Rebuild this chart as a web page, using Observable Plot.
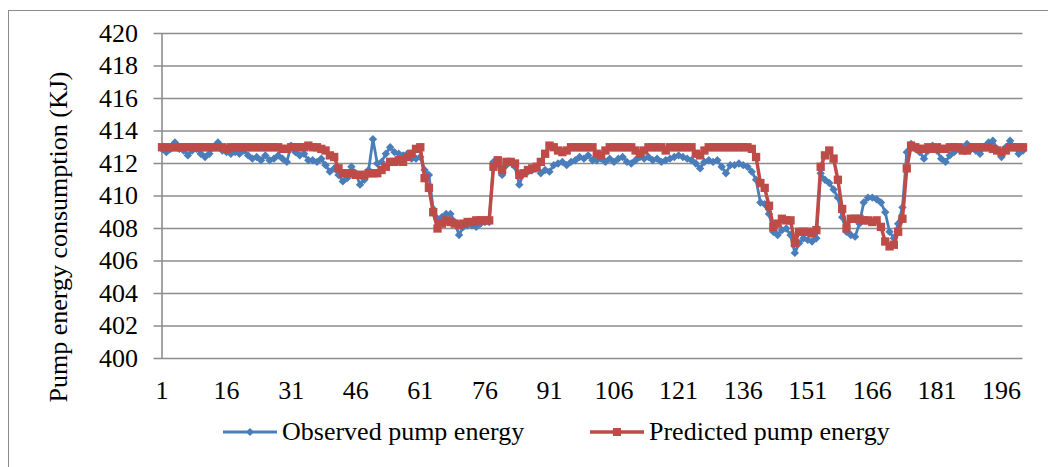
<!DOCTYPE html>
<html>
<head>
<meta charset="utf-8">
<script src="https://cdn.jsdelivr.net/npm/d3@7"></script>
<script src="https://cdn.jsdelivr.net/npm/@observablehq/plot@0.6"></script>
<style>
  html, body { margin: 0; padding: 0; background: #fff; }
  #chart { position: relative; width: 1048px; height: 467px; overflow: hidden;
           font-family: "Liberation Serif", "Times New Roman", serif; }
  #frame { position: absolute; left: 8px; top: 10px; width: 1100px; height: 500px;
           border: 1px solid #8c8c8c; box-sizing: border-box; }
  #plot { position: absolute; left: 0; top: 0; }
  #plot svg, #plot svg text { font-family: "Liberation Serif", "Times New Roman", serif !important; }
  #legend { position: absolute; left: 0; top: 410px; }
</style>
</head>
<body>
<div id="chart">
  <div id="frame"></div>
  <div id="plot"></div>
  <svg id="legend" width="1048" height="57"></svg>
</div>
<script>
// Category ticks and value gridlines
const xTicks = [1, 16, 31, 46, 61, 76, 91, 106, 121, 136, 151, 166, 181, 196];
const yTicks = [400, 402, 404, 406, 408, 410, 412, 414, 416, 418, 420];

// Observed pump energy (KJ), samples 1..201
const observed = [
  412.9, 412.7, 412.9, 413.3, 412.9, 412.8, 412.5, 412.8, 412.9, 412.6,
  412.4, 412.6, 413.0, 413.3, 412.8, 412.7, 412.6, 412.7, 412.6, 412.8,
  412.5, 412.3, 412.4, 412.2, 412.5, 412.2, 412.3, 412.5, 412.3, 412.1,
  413.1, 412.7, 412.5, 412.6, 412.2, 412.2, 412.1, 412.3, 411.9, 411.5,
  411.7, 411.3, 410.9, 411.1, 411.8, 411.4, 410.7, 411.0, 411.6, 413.5,
  412.0, 412.1, 412.6, 413.0, 412.7, 412.6, 412.5, 412.6, 412.3, 412.3,
  412.4, 411.6, 411.3, 409.2, 408.6, 408.7, 408.9, 408.9, 408.4, 407.6,
  408.1, 408.2, 408.2, 408.1, 408.3, 408.4, 408.4, 412.1, 412.0, 411.3,
  411.9, 412.1, 411.8, 410.7, 411.4, 411.5, 411.6, 411.7, 411.4, 411.6,
  411.5, 411.9, 412.0, 412.1, 411.9, 412.1, 412.2, 412.4, 412.3, 412.5,
  412.2, 412.2, 412.3, 412.1, 412.3, 412.1, 412.3, 412.4, 412.1, 412.0,
  412.2, 412.4, 412.3, 412.4, 412.2, 412.3, 412.1, 412.2, 412.3, 412.4,
  412.5, 412.4, 412.3, 412.2, 412.0, 411.7, 412.1, 412.2, 412.1, 412.2,
  411.8, 411.4, 411.9, 411.9, 412.0, 411.9, 411.8, 411.5, 411.0, 409.6,
  409.5, 408.9, 407.8, 407.6, 407.9, 408.0, 407.6, 406.5, 407.1, 407.4,
  407.3, 407.2, 407.4, 411.4, 411.0, 410.8, 410.4, 409.9, 408.7, 407.8,
  407.6, 407.5, 408.3, 409.6, 409.9, 409.9, 409.8, 409.6, 409.0, 407.8,
  407.4, 408.3, 409.3, 412.7, 413.2, 412.9, 412.7, 412.3, 412.8, 413.1,
  412.8, 412.3, 412.1, 412.5, 412.7, 412.9, 413.0, 413.2, 412.9, 412.8,
  412.6, 413.0, 413.3, 413.4, 412.9, 412.4, 413.0, 413.4, 413.0, 412.6, 412.8
];

// Predicted pump energy (KJ), samples 1..201
const predicted = [
  413.0, 413.0, 413.0, 413.0, 413.0, 413.0, 413.0, 413.0, 413.0, 413.0,
  413.0, 413.0, 413.0, 413.0, 413.0, 412.9, 413.0, 413.0, 413.0, 413.0,
  413.0, 413.0, 413.0, 413.0, 413.0, 413.0, 413.0, 413.0, 412.9, 412.9,
  413.0, 413.0, 413.0, 413.0, 413.1, 413.0, 413.0, 412.9, 412.8, 412.5,
  412.4, 411.7, 411.4, 411.4, 411.4, 411.3, 411.3, 411.3, 411.4, 411.4,
  411.4, 411.6, 411.8, 412.1, 412.1, 412.2, 412.1, 412.4, 412.6, 412.9,
  413.0, 411.1, 410.5, 409.0, 408.0, 408.3, 408.5, 408.4, 408.3, 408.2,
  408.3, 408.4, 408.4, 408.5, 408.5, 408.5, 408.5, 411.8, 412.2, 411.6,
  412.1, 412.1, 412.0, 411.3, 411.4, 411.6, 411.7, 411.8, 412.1, 412.6,
  413.1, 413.0, 412.8, 412.7, 412.8, 413.0, 413.0, 413.0, 413.0, 413.0,
  413.0, 412.6, 412.5, 412.8, 413.0, 413.0, 413.0, 413.0, 413.0, 413.0,
  412.8, 412.6, 412.8, 413.0, 413.0, 413.0, 413.0, 412.8, 413.0, 413.0,
  413.0, 413.0, 413.0, 413.0, 412.6, 412.5, 412.8, 413.0, 413.0, 413.0,
  413.0, 413.0, 413.0, 413.0, 413.0, 413.0, 413.0, 412.9, 412.4, 410.8,
  410.5, 409.4, 408.1, 408.3, 408.6, 408.5, 408.5, 407.1, 407.8, 407.8,
  407.8, 407.7, 407.9, 411.8, 412.5, 412.8, 412.3, 411.0, 409.2, 408.0,
  408.6, 408.6, 408.6, 408.5, 408.5, 408.4, 408.5, 408.1, 407.2, 406.9,
  407.0, 407.8, 408.6, 411.7, 413.1, 413.0, 412.9, 412.9, 413.0, 412.9,
  413.0, 412.9, 412.9, 413.0, 413.0, 413.0, 412.8, 412.8, 413.0, 413.0,
  413.0, 413.0, 413.0, 412.9, 412.8, 412.7, 412.8, 413.0, 413.0, 413.0, 413.0
];

const seriesNames = ["Observed pump energy", "Predicted pump energy"];
const colors = ["#4a7ebb", "#be4b48"];
const yTitle = "Pump energy consumption (KJ)";

const rows = observed.map((v, k) => ({ i: k + 1, observed: v, predicted: predicted[k] }));
const font = '"Liberation Serif", "Times New Roman", serif';
const gridColor = "#8c8c8c";

const chart = Plot.plot({
  width: 1048,
  height: 410,
  marginLeft: 161.5,
  marginRight: 25.5,
  marginTop: 33,
  marginBottom: 52,
  style: { fontSize: "26px", color: "#000", background: "transparent", overflow: "visible" },
  x: { domain: [1, rows.length], ticks: xTicks, tickSize: 0, tickPadding: 22, label: null },
  y: { domain: [400, 420], ticks: yTicks, tickSize: 0, tickPadding: 24, label: null },
  marks: [
    Plot.ruleY(yTicks, { stroke: gridColor, strokeWidth: 1.6, insetLeft: -8 }),
    Plot.ruleX([1], { stroke: gridColor, strokeWidth: 1.6 }),
    Plot.text([yTitle], {
      frameAnchor: "left", textAnchor: "middle", rotate: -90,
      dx: -103, dy: 41, fontSize: 26, fill: "#000"
    }),
    Plot.line(rows, { x: "i", y: "observed", stroke: colors[0], strokeWidth: 2.8 }),
    Plot.dot(rows, { x: "i", y: "observed", symbol: "diamond2", fill: colors[0], stroke: "none", r: 3.8 }),
    Plot.line(rows, { x: "i", y: "predicted", stroke: colors[1], strokeWidth: 3.5 }),
    Plot.dot(rows, { x: "i", y: "predicted", symbol: "square", fill: colors[1], stroke: "none", r: 4.7 })
  ]
});
document.getElementById("plot").appendChild(chart);

// Legend: line swatch with marker, then the series name
const legend = d3.select("#legend");
const items = [
  { x0: 223, x1: 277, tx: 282, marker: "diamond" },
  { x0: 590, x1: 644, tx: 649, marker: "square" }
];
items.forEach((it, k) => {
  const g = legend.append("g");
  g.append("line").attr("x1", it.x0).attr("x2", it.x1).attr("y1", 22).attr("y2", 22)
    .attr("stroke", colors[k]).attr("stroke-width", k ? 3.5 : 2.8);
  const cx = (it.x0 + it.x1) / 2;
  if (it.marker === "diamond") {
    g.append("path").attr("d", `M${cx},${22 - 4}L${cx + 4},22L${cx},${22 + 4}L${cx - 4},22Z`).attr("fill", colors[k]);
  } else {
    g.append("rect").attr("x", cx - 4).attr("y", 22 - 4).attr("width", 8).attr("height", 8).attr("fill", colors[k]);
  }
  g.append("text").attr("x", it.tx).attr("y", 30).attr("font-family", font).attr("font-size", 26)
    .attr("fill", "#000").text(seriesNames[k]);
});
</script>
</body>
</html>
